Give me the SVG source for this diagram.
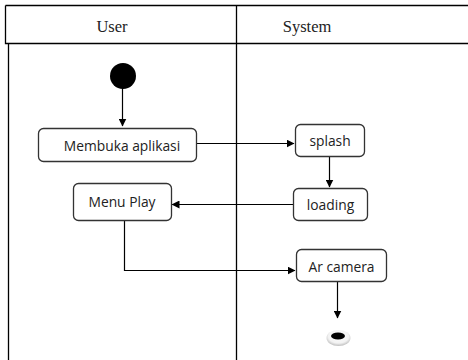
<svg xmlns="http://www.w3.org/2000/svg" width="468" height="360" viewBox="0 0 468 360">
<defs>
<marker id="arr" markerWidth="8" markerHeight="8" refX="7.5" refY="4" orient="auto" markerUnits="userSpaceOnUse">
<path d="M0,0 L8,4 L0,8 Z" fill="#000"/>
</marker>
<radialGradient id="endg" cx="50%" cy="40%" r="60%">
<stop offset="0" stop-color="#ffffff"/>
<stop offset="0.7" stop-color="#f2f2f2"/>
<stop offset="1" stop-color="#bdbdbd"/>
</radialGradient>
</defs>
<style>
.lane{fill:none;stroke:#000;stroke-width:1.3}
.hdr{font-family:"Liberation Serif",serif;font-size:16.5px;fill:#222}
.box{fill:#fff;stroke:#333;stroke-width:1.3}
.lbl{font-family:"Open Sans","Noto Sans",sans-serif;font-size:13.8px;fill:#222;text-anchor:middle}
.edge{fill:none;stroke:#000;stroke-width:1.2}
</style>
<rect width="468" height="360" fill="#fff"/>
<g id="swimlanes">
<path class="lane" d="M5.5,5.5 H468 M5.5,5.5 V43.5 H468 M8.5,43.5 V360 M236.5,5.5 V360"/>
<text class="hdr" x="112" y="32" text-anchor="middle">User</text>
<text class="hdr" x="307" y="32" text-anchor="middle">System</text>
</g>
<g id="edges">
<path class="edge" d="M122.5,88 V126" marker-end="url(#arr)"/>
<path class="edge" d="M197,143.5 H294" marker-end="url(#arr)"/>
<path class="edge" d="M329.5,157 V187" marker-end="url(#arr)"/>
<path class="edge" d="M293,204.5 H172" marker-end="url(#arr)"/>
<path class="edge" d="M124.5,221 V270.5 H295" marker-end="url(#arr)"/>
<path class="edge" d="M337.5,282 V318" marker-end="url(#arr)"/>
</g>
<g id="start">
<circle cx="123" cy="76" r="13" fill="#000"/>
</g>
<g id="membuka">
<rect class="box" x="38.5" y="128.5" width="158" height="33" rx="5"/>
<text class="lbl" x="122" y="150.5">Membuka aplikasi</text>
</g>
<g id="splash">
<rect class="box" x="295.5" y="124.5" width="69" height="32" rx="5"/>
<text class="lbl" x="330" y="146">splash</text>
</g>
<g id="loading">
<rect class="box" x="293.5" y="188.5" width="74" height="32" rx="5"/>
<text class="lbl" x="330.5" y="210">loading</text>
</g>
<g id="menuplay">
<rect class="box" x="73.5" y="183.5" width="98" height="37" rx="5"/>
<text class="lbl" x="122" y="207">Menu Play</text>
</g>
<g id="arcamera">
<rect class="box" x="296.5" y="249.5" width="90" height="32" rx="5"/>
<text class="lbl" x="341.5" y="272">Ar camera</text>
</g>
<g id="end">
<ellipse cx="338.5" cy="338" rx="12" ry="8" fill="url(#endg)"/>
<ellipse cx="338" cy="336" rx="7" ry="3.5" fill="#000"/>
</g>
</svg>
